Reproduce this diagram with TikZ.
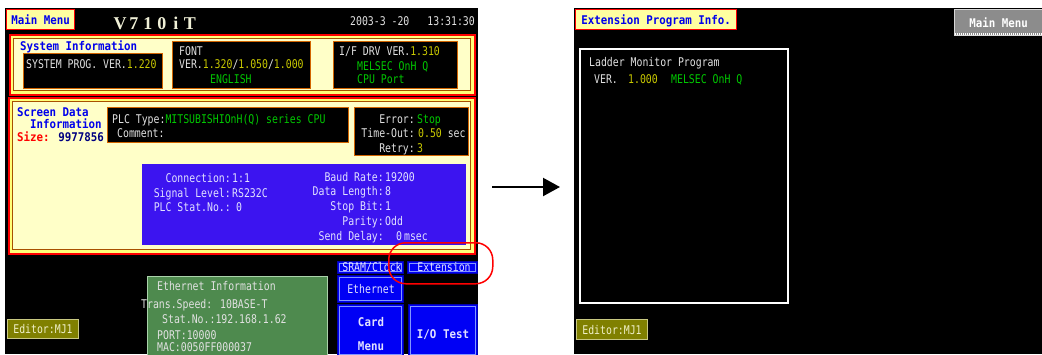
\documentclass[tikz,border=0pt]{standalone}
\usepackage{fontspec}
\usetikzlibrary{arrows.meta}
\newfontfamily\pix[FakeStretch=0.82]{DejaVu Sans Mono}
\newfontfamily\pixbold[FakeStretch=0.9]{DejaVu Sans Mono Bold}
\newfontfamily\ttlfont{Liberation Serif Bold}
\newcommand\pf{\pix\fontsize{12}{12}\selectfont}
\newcommand\pbf{\pixbold\fontsize{12}{12}\selectfont}
\newcommand\tc[1]{\makebox[14pt]{#1}}
\definecolor{cream}{RGB}{255,255,200}
\definecolor{band}{RGB}{255,255,120}
\definecolor{ylab}{RGB}{255,255,160}
\definecolor{tblue}{RGB}{0,0,235}
\definecolor{navy}{RGB}{0,0,128}
\definecolor{valy}{RGB}{200,200,0}
\definecolor{grn}{RGB}{0,200,0}
\definecolor{txtw}{RGB}{225,225,225}
\definecolor{ttlw}{RGB}{240,240,215}
\definecolor{orng}{RGB}{210,100,0}
\definecolor{pblue}{RGB}{60,20,240}
\definecolor{ptxt}{RGB}{225,225,255}
\definecolor{egrn}{RGB}{78,138,78}
\definecolor{egrnl}{RGB}{170,210,170}
\definecolor{olive}{RGB}{128,128,0}
\definecolor{olivel}{RGB}{200,200,130}
\definecolor{olivet}{RGB}{240,240,200}
\definecolor{bbl}{RGB}{0,0,245}
\definecolor{bbll}{RGB}{130,150,255}
\definecolor{gbtn}{RGB}{140,140,140}
\definecolor{gbtnl}{RGB}{215,215,215}
\tikzset{
  lbl/.style={font=\pf, inner sep=0pt, anchor=west, text=txtw, text height=9pt, text depth=0pt},
  blt/.style={lbl, font=\pbf, text=tblue},
  scr/.style={fill=black, draw=none, anchor=north west, inner sep=0pt, outer sep=0pt},
  tbox/.style={fill=ylab, draw=red, line width=1.2pt, anchor=north west, inner sep=0pt, font=\pbf, text=tblue, text height=9pt, text depth=0pt},
  pano/.style={fill=band, draw=red, line width=2pt, anchor=north west, inner sep=0pt},
  pani/.style={fill=cream, draw=orng!80!black, line width=0.9pt, anchor=north west, inner sep=0pt},
  bbox/.style={fill=black, draw=orng, line width=1.4pt, anchor=north west, inner sep=0pt},
  btn/.style={fill=bbl, draw=bbl!70!black, line width=0.8pt, anchor=north west, inner sep=0pt},
  btxt/.style={lbl, anchor=center, text=ptxt},
  edbox/.style={fill=olive, draw=olivel, line width=1pt, anchor=north west, inner sep=0pt, font=\pf, text=olivet, text height=9pt, text depth=0pt},
}
\begin{document}
\begin{tikzpicture}[x=1pt,y=-1pt]
\useasboundingbox[fill=white] (0,0) rectangle (1042,354);
% ---------------- left screen
\node[scr, minimum width=473pt, minimum height=346pt] (lscr) at (5,8) {};
\node[tbox, minimum width=68pt, minimum height=20pt] (mm) at (6,9) {Main Menu};
\node[font=\ttlfont\fontsize{18}{18}\selectfont, text=ttlw, inner sep=0pt, text height=12pt, text depth=0pt] (ttl) at (155,23) {\tc{V}\tc{7}\tc{1}\tc{0}\tc{i}\tc{T}};
\node[lbl, anchor=east] (date) at (475,21) {2003-3 -20\hspace{18pt}13:31:30};
% system information panel
\node[pano, minimum width=465pt, minimum height=60pt] (sip) at (9,34) {};
\node[pani, minimum width=457pt, minimum height=52pt] (sipi) at (13,38) {};
\node[blt] (sit) at (20,46) {System Information};
\node[bbox, minimum width=139pt, minimum height=35pt] (spb) at (23,53) {};
\node[lbl] (spt) at (26,64) {SYSTEM PROG. VER.\textcolor{valy}{1.220}};
\node[bbox, minimum width=138pt, minimum height=47pt] (fb) at (172,41) {};
\node[lbl] (fb1) at (179,51) {FONT};
\node[lbl] (fb2) at (179,64) {VER.\textcolor{valy}{1.320}/\textcolor{valy}{1.050}/\textcolor{valy}{1.000}};
\node[lbl, text=grn] (fb3) at (210,79) {ENGLISH};
\node[bbox, minimum width=124pt, minimum height=47pt] (ifb) at (333,41) {};
\node[lbl] (if1) at (339,51) {I/F DRV VER.\textcolor{valy}{1.310}};
\node[lbl, text=grn] (if2) at (357,66) {MELSEC OnH Q};
\node[lbl, text=grn] (if3) at (357,79) {CPU Port};
% screen data panel
\node[pano, minimum width=466pt, minimum height=156pt] (sdp) at (8,97) {};
\node[pani, minimum width=458pt, minimum height=148pt] (sdpi) at (12,101) {};
\node[blt] (sd1) at (17,112) {Screen Data};
\node[blt] (sd2) at (30,124) {Information};
\node[blt] (sd3) at (17,137) {\textcolor{red}{Size:} \textcolor{navy}{9977856}};
\node[bbox, minimum width=241pt, minimum height=35pt] (plcb) at (107,107) {};
\node[lbl] (plc1) at (112,119) {PLC Type:\textcolor{grn}{MITSUBISHIOnH(Q) series CPU}};
\node[lbl] (plc2) at (117,133) {Comment:};
\node[bbox, minimum width=114pt, minimum height=48pt] (erb) at (354,107) {};
\node[lbl, anchor=east] (er1) at (415,119) {Error:};
\node[lbl, text=grn] (er1v) at (417,119) {Stop};
\node[lbl, anchor=east] (er2) at (415,133) {Time-Out:};
\node[lbl] (er2v) at (418,133) {\textcolor{valy}{0.50} sec};
\node[lbl, anchor=east] (er3) at (415,148) {Retry:};
\node[lbl, text=valy] (er3v) at (417,148) {3};
% blue communication box
\node[fill=pblue, anchor=north west, inner sep=0pt, minimum width=324pt, minimum height=81pt] (cb) at (142,164) {};
\node[lbl, text=ptxt, anchor=east] (c1) at (231,178) {Connection:};
\node[lbl, text=ptxt] (c1v) at (232,178) {1:1};
\node[lbl, text=ptxt, anchor=east] (c2) at (231,193) {Signal Level:};
\node[lbl, text=ptxt] (c2v) at (232,193) {RS232C};
\node[lbl, text=ptxt, anchor=east] (c3) at (231,207) {PLC Stat.No.:};
\node[lbl, text=ptxt] (c3v) at (236,207) {0};
\node[lbl, text=ptxt, anchor=east] (d1) at (384,177) {Baud Rate:};
\node[lbl, text=ptxt] (d1v) at (385,177) {19200};
\node[lbl, text=ptxt, anchor=east] (d2) at (384,191) {Data Length:};
\node[lbl, text=ptxt] (d2v) at (385,191) {8};
\node[lbl, text=ptxt, anchor=east] (d3) at (384,206) {Stop Bit:};
\node[lbl, text=ptxt] (d3v) at (385,206) {1};
\node[lbl, text=ptxt, anchor=east] (d4) at (384,221) {Parity:};
\node[lbl, text=ptxt] (d4v) at (385,221) {Odd};
\node[lbl, text=ptxt, anchor=east] (d5) at (384,236) {Send Delay:};
\node[lbl, text=ptxt] (d5v) at (396,236) {0\,msec};
% ethernet info
\node[fill=egrn, draw=egrnl, line width=1pt, anchor=north west, inner sep=0pt, minimum width=180pt, minimum height=80pt] (eth) at (147,276) {};
\node[lbl, text=txtw] (e1) at (157,286) {Ethernet Information};
\node[lbl, text=txtw] (e2) at (141,304) {Trans.Speed: 10BASE-T};
\node[lbl, text=txtw] (e3) at (162,319) {Stat.No.:192.168.1.62};
\node[lbl, text=txtw] (e4) at (157,335) {PORT:10000};
\node[lbl, text=txtw] (e5) at (157,347) {MAC:0050FF000037};
% editor
\node[edbox, minimum width=71pt, minimum height=19pt] (ed1) at (7,319) {Editor:MJ1};
% buttons
\node[btn, minimum width=66pt, minimum height=12pt] (bsr) at (337,261) {};
\node[btn, minimum width=70pt, minimum height=12pt] (bex) at (407,261) {};
\node[btn, minimum width=66pt, minimum height=27pt] (bet) at (337,275) {};
\node[btn, minimum width=66pt, minimum height=52pt] (bcm) at (337,304) {};
\node[btn, minimum width=69pt, minimum height=52pt] (bio) at (408,304) {};
\foreach \b in {bsr,bex,bet,bcm,bio}{
  \draw[bbll, line width=0.7pt] ([shift={(2,2)}]\b.north west) rectangle ([shift={(-2,-2)}]\b.south east);
}
\node[btxt] (tsr) at (372,267) {SRAM/Clock};
\node[btxt] (tex) at (444,267) {Extension};
\node[btxt] (tet) at (371,289) {Ethernet};
\node[btxt, font=\pbf] (tcm1) at (371,322) {Card};
\node[btxt, font=\pbf] (tcm2) at (371,346) {Menu};
\node[btxt, font=\pbf] (tio) at (443,334) {I/O Test};
% highlight
\node[draw=red, line width=1.5pt, rounded corners=17pt, anchor=north west, inner sep=0pt, minimum width=104pt, minimum height=41pt] (hl) at (388,242) {};
% ---------------- arrow
\coordinate (as) at (492,187);
\coordinate (ae) at (560,187);
\draw[line width=2.2pt, -{Triangle[length=17pt,width=18pt]}] (as) -- (ae);
% ---------------- right screen
\node[scr, minimum width=468pt, minimum height=346pt] (rscr) at (574,8) {};
\node[tbox, minimum width=161pt, minimum height=20pt] (ept) at (575,9) {Extension Program Info.};
\node[fill=gbtn, draw=gbtnl, line width=1pt, anchor=north west, inner sep=0pt, minimum width=88pt, minimum height=26pt, font=\pbf, text=white, text height=9pt, text depth=0pt] (mmb) at (954,9) {Main Menu};
\draw[white, line width=1.5pt, dash pattern=on 1pt off 1pt] ([shift={(1,-2)}]mmb.south west) -- ([shift={(0,-2)}]mmb.south east);
\node[draw=white, line width=1.5pt, anchor=north west, inner sep=0pt, minimum width=208pt, minimum height=254pt] (lad) at (579,48) {};
\node[lbl] (l1) at (589,62) {Ladder Monitor Program};
\node[lbl] (l2) at (594,79) {VER.};
\node[lbl, text=valy] (l3) at (628,79) {1.000};
\node[lbl, text=grn] (l4) at (671,79) {MELSEC OnH Q};
\node[edbox, minimum width=71pt, minimum height=20pt] (ed2) at (576,319) {Editor:MJ1};
\end{tikzpicture}
\end{document}
